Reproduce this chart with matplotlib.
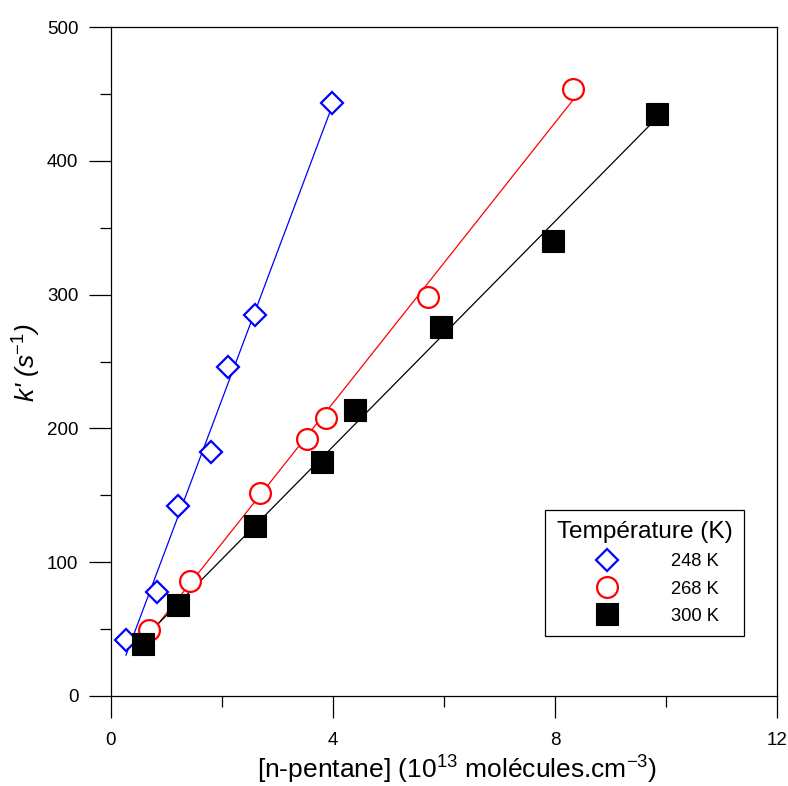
import numpy as np
import matplotlib
matplotlib.use("Agg")
import matplotlib.pyplot as plt
from matplotlib.ticker import MultipleLocator

plt.rcParams['font.family'] = ['Liberation Sans', 'DejaVu Sans']
plt.rcParams['mathtext.fontset'] = 'custom'
plt.rcParams['mathtext.rm'] = 'Liberation Sans'
plt.rcParams['mathtext.it'] = 'Liberation Sans:italic'

# Data: [n-pentane] (1e13 molecules/cm3) vs k' (s^-1)
x_248 = [0.27, 0.83, 1.21, 1.80, 2.11, 2.59, 3.98]
k_248 = [42, 78, 142, 182, 246, 285, 443]

x_268 = [0.68, 1.42, 2.68, 3.53, 3.87, 5.71, 8.32]
k_268 = [49, 86, 152, 192, 208, 298, 454]

x_300 = [0.58, 1.21, 2.59, 3.80, 4.40, 5.95, 7.96, 9.84]
k_300 = [39, 68, 127, 175, 214, 276, 340, 435]

labels = ['248 K', '268 K', '300 K']
legend_title = 'Température (K)'

fig = plt.figure(figsize=(7.88, 7.86), dpi=100)
ax = fig.add_axes([111/788, 1-696/786, 666/788, 669/786])

series = [
    (x_248, k_248, 'blue', dict(marker='D', ms=11, mfc='white', mec='blue', mew=1.6)),
    (x_268, k_268, 'red', dict(marker='o', ms=15, mfc='white', mec='red', mew=1.6)),
    (x_300, k_300, 'black', dict(marker='s', ms=15.5, mfc='black', mec='black', mew=0.8)),
]

for (xs, ys, col, mk), lab in zip(series, labels):
    xs = np.asarray(xs); ys = np.asarray(ys)
    p = np.polyfit(xs, ys, 1)
    xl = np.array([xs.min(), xs.max()])
    ax.plot(xl, np.polyval(p, xl), color=col, lw=0.9, zorder=2)
for (xs, ys, col, mk), lab in zip(series, labels):
    ax.plot(xs, ys, linestyle='none', label=lab, zorder=3, **mk)

ax.set_xlim(0, 12)
ax.set_ylim(0, 500)
ax.xaxis.set_major_locator(MultipleLocator(4))
ax.xaxis.set_minor_locator(MultipleLocator(2))
ax.yaxis.set_major_locator(MultipleLocator(100))
ax.yaxis.set_minor_locator(MultipleLocator(50))
ax.tick_params(which='both', direction='out', width=0.9, labelsize=13.5,
               top=False, right=False)
ax.tick_params(which='major', length=16)
ax.tick_params(which='minor', length=8)
ax.tick_params(axis='x', which='major', pad=10)
ax.tick_params(axis='y', which='major', pad=7.5)
for s in ax.spines.values():
    s.set_linewidth(0.9)

ax.set_xlabel('[n-pentane] (10$^{13}$ molécules.cm$^{-3}$)', fontsize=19)
ax.xaxis.label.set_va('center')
ax.xaxis.set_label_coords(0.52, -0.111)
ax.set_ylabel(r"k' (s$^{\mathit{-1}}$)", fontsize=19, fontstyle='italic')
ax.yaxis.label.set_va('center')
ax.yaxis.set_label_coords(-0.126, 0.498)

leg = ax.legend(title=legend_title, loc='lower left',
                bbox_to_anchor=(0.652, 0.0897), fontsize=13.2,
                title_fontsize=17.6, frameon=True, fancybox=False,
                edgecolor='black', framealpha=1, handlelength=4.0,
                handletextpad=1.5, labelspacing=0.55, borderpad=0.62,
                borderaxespad=0)
leg.get_frame().set_linewidth(0.9)

fig.savefig('out.png', dpi=100)
